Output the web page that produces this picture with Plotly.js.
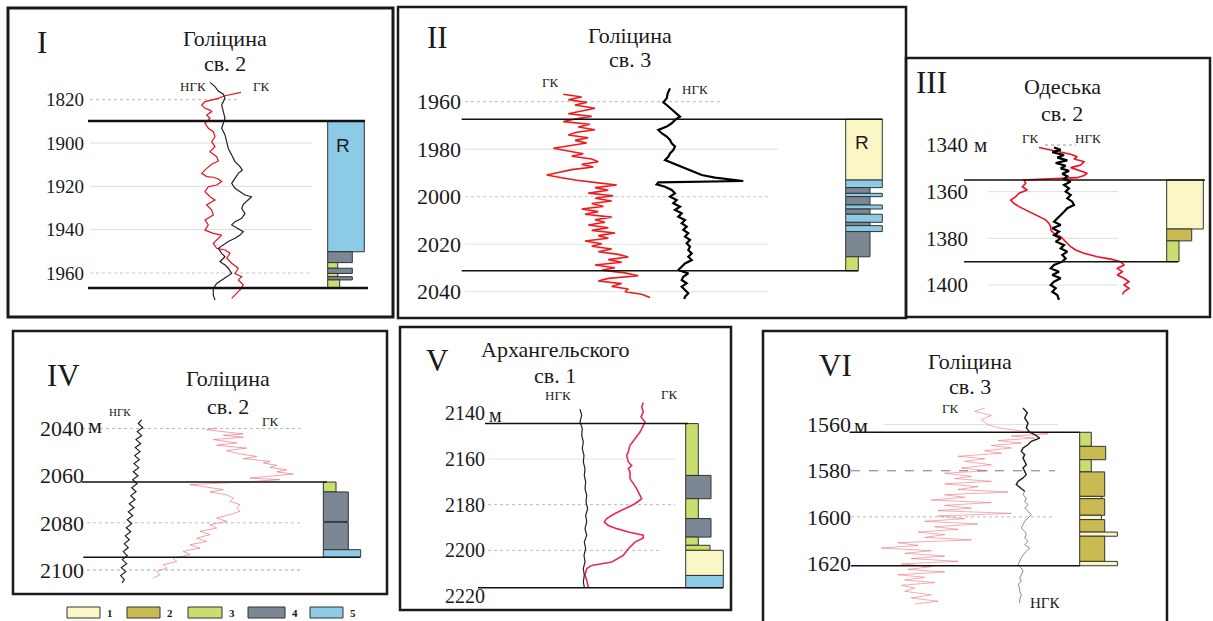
<!DOCTYPE html>
<html><head><meta charset="utf-8">
<script src="https://cdn.plot.ly/plotly-3.0.1.min.js"></script>
<style>html,body{margin:0;padding:0;background:#fff;}#chart{width:1213px;height:621px;}</style>
</head><body><div id="chart"></div>
<script>
// ================= DATA =================
const lithoCodes = [1, 2, 3, 4, 5];
const lithoColors = {1:'#fbf6c6', 2:'#c9bb52', 3:'#c8de6e', 4:'#7c8794', 5:'#8dcae6'};

// ---- Panel I : Голіцина св. 2 ----
const ticks1 = [1880, 1900, 1920, 1940, 1960];
const tickText1 = ['1820', '1900', '1920', '1940', '1960'];
const bounds1 = [1889.8, 1966.9];
const ngk1Depth = [1872.0,1874.0,1876.0,1877.5,1879.4,1882.5,1885.5,1888.6,1890.9,1893.2,1896.3,1899.4,1902.5,1905.5,1908.6,1910.9,1912.5,1914.0,1916.3,1918.6,1920.9,1922.5,1924.0,1924.8,1926.3,1928.3,1930.2,1932.5,1934.8,1936.3,1937.8,1939.4,1940.9,1942.5,1944.0,1945.5,1947.1,1948.6,1950.9,1952.5,1954.8,1956.3,1957.8,1960.2,1961.7,1963.2,1964.8,1967.1,1970.2,1972.5];
const ngk1 = [202,207,210.3,215.3,217,213.7,215.3,217,215.3,213.7,217,218.7,220.3,223.7,227,232,234.3,230.3,227,223.7,227,232,237,243.7,240.3,235.3,233.7,237,233.7,227,223.7,230.3,235.3,232,227,220.3,215.3,210.3,213.7,217,212,217,220.3,223.7,218.7,213.7,208.7,205.3,205.3,207];
const gk1Depth = [1876.6,1877.5,1878.2,1879.4,1880.2,1880.9,1882.5,1884.0,1884.8,1885.5,1887.1,1888.6,1890.9,1893.2,1894.8,1897.1,1899.4,1901.7,1904.0,1906.3,1908.3,1909.8,1911.7,1914.0,1915.5,1915.8,1916.6,1917.8,1919.4,1920.2,1922.5,1924.8,1926.3,1928.6,1930.9,1933.2,1935.5,1937.8,1940.2,1941.7,1942.5,1944.0,1946.3,1948.6,1949.4,1950.9,1953.2,1955.5,1957.8,1960.2,1961.7,1963.2,1965.5,1967.8,1970.2,1971.7];
const gk1 = [233,223.7,217,210.3,202,197,193.7,197,202,203.7,198.7,202,197,200.3,205.3,207,203.7,207,202,208.7,210.3,203.7,198.7,193.7,198.7,205.3,210.3,213.7,208.7,200.3,197,202,207,198.7,203.7,205.3,197,200.3,197,205.3,213.7,210.3,205.3,208.7,217,222,218.7,223.7,230.3,227,233.7,230.3,235.3,232,227,223.7];
const litho1Top = [1889.8,1950.2,1955.2,1957.8,1960.2,1961.7,1963.2];
const litho1Bot = [1950.2,1955.2,1957.8,1960.2,1961.7,1963.2,1966.9];
const litho1Type = [5,4,3,4,3,4,3];
const litho1Width = [36.6,24.6,10,24.6,10,24.6,12];

// ---- Panel II : Голіцина св. 3 ----
const ticks2 = [1960, 1980, 2000, 2020, 2040];
const tickText2 = ['1960', '1980', '2000', '2020', '2040'];
const bounds2 = [1967.4, 2031.2];
const ngk2Depth = [1954.4,1956.5,1958.6,1960.3,1961.4,1963.1,1964.9,1966.3,1967.7,1969.1,1970.5,1971.9,1973.3,1974.7,1976.1,1977.5,1978.9,1980.4,1981.8,1983.2,1984.6,1985.5,1986.9,1988.8,1990.9,1992.0,1992.8,1993.4,1994.0,1994.8,1995.8,1997.2,1998.6,2000.0,2001.4,2002.8,2004.2,2005.6,2007.0,2008.4,2009.8,2011.2,2012.6,2014.0,2015.4,2016.8,2018.2,2019.6,2021.1,2022.5,2023.9,2025.3,2026.7,2028.1,2029.5,2030.9,2032.3,2033.7,2035.1,2036.5,2037.9,2039.3,2040.7,2042.1,2043.1];
const ngk2 = [272,269.7,268.7,265.3,268.7,273.7,278.7,282,277,273.7,268.7,260.3,263.7,268.7,272,273.7,277,275.3,272,270.3,267,272,280.3,290.3,303.7,317,330.3,345.3,260.3,258.7,267,273.7,277,272,278.7,275.3,282,277,283.7,280.3,287,283.7,288.7,285.3,290.3,287,292,288.7,292,290.3,293.7,290.3,293.7,287,283.7,280.3,290.3,285.3,283.7,288.7,283.7,287,290.3,287,286.3];
const gk2Depth = [1956.9,1958.0,1959.2,1960.3,1961.4,1962.8,1963.9,1965.1,1966.2,1967.3,1968.4,1969.5,1970.7,1971.8,1972.9,1974.0,1975.2,1976.3,1977.4,1978.5,1979.6,1980.8,1981.9,1983.0,1984.1,1985.3,1986.4,1987.5,1988.6,1989.8,1990.9,1992.0,1993.1,1994.2,1995.1,1996.2,1997.3,1998.5,1999.6,2000.7,2001.8,2002.9,2004.1,2005.2,2006.3,2007.4,2008.6,2009.7,2010.8,2011.9,2013.1,2014.2,2015.3,2016.4,2017.5,2018.7,2019.8,2020.9,2022.0,2023.2,2024.3,2025.4,2026.5,2027.6,2028.8,2029.9,2031.0,2032.1,2033.3,2034.4,2035.5,2036.6,2037.8,2038.9,2040.0,2041.1,2042.5];
const gk2 = [165.3,183.7,170.3,188.7,177,197,183.7,170.3,193.7,177,165.3,192,180.3,197,178.7,170.3,190.3,177,188.7,173.7,155.3,170.3,185.3,173.7,193.7,200.3,183.7,195.3,173.7,160.3,148.7,163.7,178.7,200.3,218.7,197,210.3,190.3,215.3,197,213.7,193.7,205.3,183.7,200.3,187,213.7,197,207,190.3,210.3,193.7,217,200.3,210.3,187,203.7,193.7,213.7,200.3,220.3,230.3,210.3,223.7,197,217,203.7,227,240.3,210.3,200.3,223.7,213.7,230.3,227,243.7,252];
const litho2Top = [1967.4,1993.0,1996.2,1998.6,2000.0,2003.5,2005.2,2007.4,2010.8,2012.2,2014.7,2025.3];
const litho2Bot = [1993.0,1996.2,1998.6,2000.0,2003.5,2005.2,2007.4,2010.8,2012.2,2014.7,2025.3,2031.2];
const litho2Type = [1,5,4,5,4,5,4,5,4,5,4,3];
const litho2Width = [36.6,36.6,24.3,36.6,24.3,36.6,24.3,36.6,24.3,36.6,24.3,12.6];

// ---- Panel III : Одеська св. 2 ----
const ticks3 = [1340, 1360, 1380, 1400];
const tickText3 = ['1340', '1360', '1380', '1400'];
const bounds3 = [1355, 1390];
const ngk3Depth = [1341.1,1342.1,1343.1,1344.3,1345.4,1346.6,1347.7,1348.9,1350.0,1351.1,1352.3,1353.4,1354.6,1355.7,1357.1,1358.6,1360.0,1361.4,1362.9,1364.3,1365.7,1367.1,1368.6,1370.0,1371.4,1372.9,1374.3,1375.7,1377.1,1378.6,1380.0,1381.4,1382.9,1384.3,1385.7,1387.1,1388.6,1390.0,1391.4,1392.9,1394.3,1395.7,1397.1,1398.6,1400.0,1401.4,1402.9,1404.3,1406.4];
const ngk3 = [148,154.7,146.3,158,151.3,161.3,149.7,159.7,154.7,163,156.3,161.3,158,164.7,158,163,159.7,164.7,161.3,166.3,168,161.3,158,154.7,151.3,148,154.7,146.3,153,148,154.7,149.7,158,154.7,161.3,156.3,159.7,156.3,148,144.7,153,146.3,154.7,148,144.7,149.7,146.3,151.3,153];
const gk3Depth = [1341.1,1342.1,1343.1,1344.0,1345.0,1346.0,1347.1,1348.6,1349.7,1350.7,1352.1,1353.1,1354.0,1355.0,1356.4,1357.9,1359.3,1360.7,1362.1,1363.6,1365.0,1366.4,1367.9,1369.3,1370.7,1372.1,1373.6,1375.0,1376.4,1377.9,1379.3,1380.7,1382.1,1383.6,1385.0,1386.4,1387.9,1388.9,1390.0,1391.4,1392.9,1394.3,1395.7,1397.1,1398.6,1400.0,1401.4,1402.9,1404.0];
const gk3 = [133,144.7,154.7,164.7,171.3,168,178,174.7,164.7,171.3,181.3,178,171.3,118,119.7,116.3,121.3,113,109.7,104.7,108,113,119.7,126.3,133,139.7,143,144.7,144.7,148,154.7,158,161.3,164.7,169.7,178,191.3,204.7,214.7,218,211.3,216.3,211.3,218,223,218,223,218,216.3];
const litho3Top = [1355, 1376, 1381.1];
const litho3Bot = [1376, 1381.1, 1390];
const litho3Type = [1, 2, 3];
const litho3Width = [36.6, 25, 12.3];

// ---- Panel IV : Голіцина св. 2 ----
const ticks4 = [2040, 2060, 2080, 2100];
const tickText4 = ['2040', '2060', '2080', '2100'];
const bounds4 = [2062.7, 2094.6];
const ngk4Depth = [2036.2,2037.9,2039.6,2041.3,2043.0,2044.7,2046.4,2048.1,2049.8,2051.5,2053.2,2054.9,2056.6,2058.3,2060.0,2061.7,2063.4,2065.1,2066.8,2068.5,2070.2,2071.9,2073.6,2075.3,2077.0,2078.7,2080.4,2082.1,2083.8,2085.5,2087.2,2088.9,2090.5,2092.2,2093.9,2095.6,2097.3,2099.0,2100.7,2102.4,2104.1,2105.5];
const ngk4 = [128.7,125.3,129.7,124.3,128.7,123,127.7,122.3,127,121.7,126.3,121,125.7,120.3,125,119.7,124,118.7,123,117.7,122,116.3,121,115.3,119.7,114.3,118.7,113.3,117.7,112.3,116.3,111.3,115.3,110.3,114.3,109.3,113.7,108.3,112.7,107.7,111.3,109];
const gk4Depth = [2039.8,2040.5,2041.5,2042.3,2042.9,2043.7,2044.7,2046.1,2047.1,2048.3,2049.4,2050.8,2051.8,2052.8,2053.9,2054.6,2055.6,2056.5,2057.5,2058.4,2059.3,2060.3,2061.0,2061.7,2062.7,2063.8,2064.9,2065.9,2066.9,2068.1,2069.5,2070.9,2072.3,2073.7,2075.1,2076.5,2078.0,2079.4,2080.8,2082.2,2083.6,2085.0,2086.5,2087.9,2089.3,2090.7,2092.1,2093.5,2094.9,2096.4,2097.8,2099.2,2100.6,2102.0,2103.4];
const gk4 = [203.7,193.7,213.7,230.3,210.3,230.3,200.3,223.7,203.7,233.7,213.7,227,243.7,230.3,257,250.3,263.7,257,273.7,263.7,280.3,257,237,267,230.3,177,197,210.3,197,213.7,220.3,217,227,223.7,227,217,203.7,213.7,197,203.7,187,197,183.7,193.7,177,187,170.3,177,160.3,163.7,150.3,153.7,143.7,147,140.3];
const litho4Top = [2062.7, 2066.9, 2079.8, 2091.4];
const litho4Bot = [2066.9, 2079.4, 2091.4, 2094.6];
const litho4Type = [3, 4, 4, 5];
const litho4Width = [12.7, 25, 25, 37.4];

// ---- Panel V : Архангельского св. 1 ----
const ticks5 = [2140, 2160, 2180, 2200, 2220];
const tickText5 = ['2140', '2160', '2180', '2200', '2220'];
const bounds5 = [2144.5, 2216.4];
const ngk5Depth = [2138.2,2140.9,2143.8,2146.7,2149.6,2152.6,2155.5,2158.4,2161.3,2164.2,2167.2,2170.1,2173.0,2175.9,2178.8,2181.8,2184.7,2187.6,2190.5,2193.4,2196.4,2199.3,2202.2,2205.1,2208.0,2210.9,2213.9,2216.1];
const ngk5 = [180,181.7,180,182.3,181.7,183.3,182.3,184,183.3,185,184.3,185.7,185,186.7,186,187.7,185.7,186.7,185,186.7,184.3,185.7,184,185,183.3,184.3,183.3,184.3];
const gk5Depth = [2135.3,2137.2,2139.4,2141.6,2143.8,2145.3,2148.2,2151.1,2154.0,2156.9,2158.4,2161.3,2162.8,2164.2,2165.7,2168.6,2170.8,2173.0,2175.9,2177.4,2179.6,2181.8,2183.9,2186.1,2187.6,2189.1,2190.5,2192.0,2193.4,2194.6,2196.4,2199.3,2202.2,2205.1,2206.6,2208.0,2210.9,2213.1,2216.1];
const gk5 = [243.3,241.7,243.3,241,245,243.3,240,235,230,228.3,226.7,228.3,231.7,228.3,230,230,233.3,236.7,240,241.7,235,225,215,206.7,204.3,208.3,216.7,228.3,243.3,243.3,235,228.3,223.3,211.7,191.7,186.7,185,186.7,188.3];
const litho5Top = [2144.5,2167.2,2177.4,2186.1,2194.2,2197.8,2200.0,2211.0];
const litho5Bot = [2167.2,2177.4,2186.1,2194.2,2197.8,2200.0,2211.0,2216.4];
const litho5Type = [3,4,3,4,3,3,1,5];
const litho5Width = [12.6,25.3,12.6,25.3,12.6,24.3,37.6,37.6];

// ---- Panel VI : Голіцина св. 3 ----
const ticks6 = [1560, 1580, 1600, 1620];
const tickText6 = ['1560', '1580', '1600', '1620'];
const bounds6 = [1563.3, 1621.2];
const ngk6Depth = [1552.8,1554.9,1557.1,1559.3,1561.4,1563.3,1564.3,1565.8,1567.2,1568.7,1570.1,1571.6,1573.0,1574.5,1575.9,1577.4,1578.8,1580.2,1581.7,1583.1,1584.6,1586.0,1587.5,1588.9,1590.4,1591.8,1593.3,1594.7,1596.2,1597.6,1599.0,1600.5,1601.9,1603.4,1604.8,1606.3,1607.7,1609.2,1610.6,1612.1,1613.5,1615.0,1616.4,1617.8,1619.3,1620.7,1622.2,1623.6,1625.1,1626.5,1628.0,1629.4,1630.9,1632.3,1633.8,1635.9,1637.4];
const ngk6 = [260,264.3,261.7,265,263.3,266.7,271.7,276.7,268.3,265,260,258.3,261.7,260,261.7,263.3,260,261.7,263.3,260,255,253.3,258.3,261.7,260,263.3,261.7,265,261.7,265,268.3,265,261.7,260,258.3,261.7,263.3,261.7,265,261.7,266.7,263.3,260,258.3,256.7,255,258.3,260,258.3,256.7,258.3,255,256.7,256.7,258.3,256.7,256.7];
const gk6Depth = [1552.8,1554.2,1556.0,1557.8,1560.0,1561.4,1562.9,1564.0,1564.9,1565.8,1566.9,1568.0,1569.0,1570.1,1571.3,1572.4,1573.7,1574.8,1575.9,1577.4,1578.8,1580.0,1581.1,1582.4,1583.4,1584.6,1585.7,1586.9,1588.1,1589.2,1590.4,1591.5,1592.7,1593.8,1595.0,1596.2,1597.3,1598.5,1599.6,1600.8,1601.9,1603.1,1604.3,1605.4,1606.6,1607.7,1608.9,1610.0,1611.2,1612.4,1613.5,1614.7,1615.8,1617.0,1618.1,1619.3,1620.4,1621.6,1622.8,1623.9,1625.1,1626.2,1627.4,1628.5,1629.7,1630.9,1632.3,1633.8,1635.2,1636.6,1637.8];
const gk6 = [221.7,211.7,228.3,218.3,225,235,261.7,285,248.3,271.7,235,258.3,228.3,248.3,221.7,238.3,195,221.7,201.7,228.3,198.3,225,181.7,208.3,191.7,228.3,181.7,215,195,245,181.7,201.7,168.3,228.3,181.7,208.3,175,248.3,175,201.7,161.7,215,171.7,195,155,181.7,161.7,208.3,135,155,118.3,168.3,141.7,181.7,148.3,195,138.3,168.3,145,181.7,135,161.7,141.7,171.7,138.3,151.7,141.7,168.3,148.3,175,151.7];
const litho6Top = [1563.3,1569.4,1575.2,1580.5,1591.1,1592.1,1599.3,1601.2,1606.6,1608.4,1619.3];
const litho6Bot = [1569.4,1575.2,1580.5,1591.1,1592.1,1599.3,1601.2,1606.6,1608.4,1619.3,1621.2];
const litho6Type = [3,2,3,2,1,2,1,2,1,2,1];
const litho6Width = [11.6,26,11.6,25,21.7,25,21.7,25,37.7,25,37.7];

const wellNames = [['Голіцина','св. 2'],['Голіцина','св. 3'],['Одеська','св. 2'],['Голіцина','св. 2'],['Архангельского','св. 1'],['Голіцина','св. 3']];
const romans = ['I','II','III','IV','V','VI'];

// ================= LAYOUT / GEOMETRY =================
const W = 1213, H = 621;
const px = x => x / W, py = y => 1 - y / H;
const SERIF = 'Liberation Serif, Times New Roman, serif';

const series = [
  {ngkD:ngk1Depth, ngk:ngk1, gkD:gk1Depth, gk:gk1, lt:litho1Top, lb:litho1Bot, ty:litho1Type, lw:litho1Width, tv:ticks1, tt:tickText1, bd:bounds1},
  {ngkD:ngk2Depth, ngk:ngk2, gkD:gk2Depth, gk:gk2, lt:litho2Top, lb:litho2Bot, ty:litho2Type, lw:litho2Width, tv:ticks2, tt:tickText2, bd:bounds2},
  {ngkD:ngk3Depth, ngk:ngk3, gkD:gk3Depth, gk:gk3, lt:litho3Top, lb:litho3Bot, ty:litho3Type, lw:litho3Width, tv:ticks3, tt:tickText3, bd:bounds3},
  {ngkD:ngk4Depth, ngk:ngk4, gkD:gk4Depth, gk:gk4, lt:litho4Top, lb:litho4Bot, ty:litho4Type, lw:litho4Width, tv:ticks4, tt:tickText4, bd:bounds4},
  {ngkD:ngk5Depth, ngk:ngk5, gkD:gk5Depth, gk:gk5, lt:litho5Top, lb:litho5Bot, ty:litho5Type, lw:litho5Width, tv:ticks5, tt:tickText5, bd:bounds5},
  {ngkD:ngk6Depth, ngk:ngk6, gkD:gk6Depth, gk:gk6, lt:litho6Top, lb:litho6Bot, ty:litho6Type, lw:litho6Width, tv:ticks6, tt:tickText6, bd:bounds6}
];

const geom = [
  {L:8,R:393,T:8,B:317,fw:3, d0:1900,y0:143,k:2.1667, axisX:84, tf:19, colLeft:319.7,
   bx:[[80,357],[80,360]], bw:2.5,
   grid:[[82,230,'dot','#bbb'],[82,304,'solid','#ddd'],[82,304,'solid','#ddd'],[82,304,'solid','#ddd'],[82,304,'dot','#c8c8c8']],
   gkLine:{color:'#e8101c',width:1.2}, ngkLine:{color:'#222',width:1.2}, ngkDark:null,
   roman:[42,43], t1:[225,38], t2:[225,63], labs:[['НГК',193,87,13],['ГК',261,87,13]], unit:null, rLab:[343,145]},
  {L:398,R:906,T:7,B:318,fw:2.5, d0:1960,y0:101.67,k:2.375, axisX:461, tf:22, colLeft:447.7,
   bx:[[63.7,484.3],[63.7,460.3]], bw:1.5,
   grid:[[67,324,'dot','#bbb'],[67,380,'solid','#ddd'],[67,370,'dot','#c8c8c8'],[67,370,'solid','#e2e2e2'],[67,370,'solid','#e2e2e2']],
   gkLine:{color:'#f01a1a',width:1.6}, ngkLine:{color:'#000',width:2.2}, ngkDark:null,
   roman:[437,37], t1:[630,35], t2:[630,60], labs:[['ГК',550,82,13],['НГК',695,90,13]], unit:null, rLab:[862,142]},
  {L:906,R:1210,T:58,B:317,fw:2.5, d0:1340,y0:145,k:2.3333, axisX:968, tf:21, colLeft:260.7,
   bx:[[58,299],[58,272]], bw:1.5,
   grid:[[139,170,'dot','#999'],[82,212,'solid','#ddd'],[82,212,'solid','#ddd'],[82,212,'solid','#ddd']],
   gkLine:{color:'#ee1122',width:1.6}, ngkLine:{color:'#000',width:2.2}, ngkDark:null,
   roman:[932,82], t1:[1062,87], t2:[1062,113], labs:[['ГК',1030,138,13],['НГК',1088,138,13]], unit:[972,145], rLab:null},
  {L:13,R:387,T:331,B:594,fw:2.5, d0:2070,y0:499.25,k:2.358, axisX:84, tf:22, colLeft:310.3,
   bx:[[68.7,313.7],[70.3,347]], bw:1.5,
   grid:[[69,290,'dot','#bbb'],null,[74,290,'dot','#bbb'],[74,290,'dot','#aaa']],
   gkLine:{color:'rgba(235,110,120,0.65)',width:1}, ngkLine:{color:'#222',width:1.2}, ngkDark:null,
   roman:[63,375], t1:[228,378], t2:[228,406], labs:[['НГК',120,412,11],['ГК',270,421,13]], unit:[86,425], rLab:null},
  {L:400,R:731,T:327,B:610,fw:2.5, d0:2180,y0:504.66,k:2.2835, axisX:485, tf:20, colLeft:285.7,
   bx:[[85,288],[78,323]], bw:1.5,
   grid:[null,[88,275,'solid','#e6e6e6'],[88,275,'dot','#bbb'],[88,260,'dot','#bbb'],null],
   gkLine:{color:'#ea2a52',width:1.6}, ngkLine:{color:'#222',width:1.2}, ngkDark:null,
   roman:[437,360], t1:[555,350], t2:[555,375], labs:[['НГК',558,396,13],['ГК',670,394,13]], unit:[487,415], rLab:null},
  {L:763,R:1167,T:331,B:626,fw:2.5, d0:1560,y0:424.67,k:2.305, axisX:851, tf:22, colLeft:316.7,
   bx:[[86.7,316.7],[88,317]], bw:1.5,
   grid:[[121,295,'solid','#ddd'],[88,292,'dash','#777'],[88,292,'dot','#bbb'],null],
   gkLine:{color:'rgba(235,90,100,0.5)',width:1}, ngkLine:{color:'#888',width:1},
   ngkDark:{maxDepth:1589, line:{color:'#222',width:1.4}},
   roman:[835,366], t1:[970,361], t2:[970,386], labs:[['ГК',950,408,13],['НГК',1045,603,15]], unit:[852,425], rLab:null}
];

const traces = [], shapes = [], annotations = [];
const layout = {
  width: W, height: H, margin: {l:0, r:0, t:0, b:0}, autosize: false,
  paper_bgcolor: '#fff', plot_bgcolor: 'rgba(0,0,0,0)', showlegend: false,
  barmode: 'overlay', bargap: 0, font: {family: SERIF, color: '#1a1a1a'}
};

geom.forEach((g, i) => {
  const s = series[i];
  const sfx = i ? String(i + 1) : '';
  const xa = 'x' + sfx, ya = 'y' + sfx;
  const bottomPx = Math.min(g.B, H);
  const dTop = g.d0 + (g.T - g.y0) / g.k;
  const dBot = g.d0 + (bottomPx - g.y0) / g.k;
  layout['xaxis' + sfx] = {domain: [px(g.L), px(g.R)], range: [0, g.R - g.L], autorange: false,
    visible: false, fixedrange: true, anchor: ya};
  layout['yaxis' + sfx] = {domain: [py(bottomPx), py(g.T)], range: [dBot, dTop], autorange: false,
    anchor: 'free', position: px(g.axisX), tickmode: 'array', tickvals: s.tv, ticktext: s.tt,
    ticks: '', showgrid: false, zeroline: false, showline: false, fixedrange: true,
    tickfont: {family: SERIF, size: g.tf, color: '#1a1a1a'}};

  s.tv.forEach((d, j) => {
    const gr = g.grid[j];
    if (!gr) return;
    shapes.push({type:'line', xref:xa, yref:ya, x0:gr[0], x1:gr[1], y0:d, y1:d,
      line:{color:gr[3], width:1, dash:gr[2]}, layer:'below'});
  });

  traces.push({type:'scatter', mode:'lines', x:s.gk, y:s.gkD, xaxis:xa, yaxis:ya,
    line:g.gkLine, hoverinfo:'skip', name:'ГК'});
  traces.push({type:'scatter', mode:'lines', x:s.ngk, y:s.ngkD, xaxis:xa, yaxis:ya,
    line:g.ngkLine, hoverinfo:'skip', name:'НГК'});
  if (g.ngkDark) {
    const idx = s.ngkD.map((d, j) => j).filter(j => s.ngkD[j] <= g.ngkDark.maxDepth);
    traces.push({type:'scatter', mode:'lines', x:idx.map(j => s.ngk[j]), y:idx.map(j => s.ngkD[j]),
      xaxis:xa, yaxis:ya, line:g.ngkDark.line, hoverinfo:'skip', name:'НГК'});
  }

  traces.push({type:'bar', x:s.lw.map(w => g.colLeft + w / 2), y:s.lb.map((b, j) => b - s.lt[j]),
    base:s.lt, width:s.lw, xaxis:xa, yaxis:ya, hoverinfo:'skip',
    marker:{color:s.ty.map(t => lithoColors[t]), line:{color:'#333', width:1}}});

  s.bd.forEach((d, j) => {
    shapes.push({type:'line', xref:xa, yref:ya, x0:g.bx[j][0], x1:g.bx[j][1], y0:d, y1:d,
      line:{color:'#111', width:g.bw}, layer:'above'});
  });

  shapes.push({type:'rect', xref:'paper', yref:'paper', x0:px(g.L), x1:px(g.R), y0:py(g.B), y1:py(g.T),
    line:{color:'#1a1a1a', width:g.fw}, fillcolor:'rgba(0,0,0,0)', layer:'above'});

  annotations.push({text:romans[i], xref:'paper', yref:'paper', x:px(g.roman[0]), y:py(g.roman[1]),
    showarrow:false, xanchor:'center', yanchor:'middle', font:{family:SERIF, size:31, color:'#1a1a1a'}});
  annotations.push({text:wellNames[i][0], xref:'paper', yref:'paper', x:px(g.t1[0]), y:py(g.t1[1]),
    showarrow:false, xanchor:'center', yanchor:'middle', font:{family:SERIF, size:22, color:'#1a1a1a'}});
  annotations.push({text:wellNames[i][1], xref:'paper', yref:'paper', x:px(g.t2[0]), y:py(g.t2[1]),
    showarrow:false, xanchor:'center', yanchor:'middle', font:{family:SERIF, size:22, color:'#1a1a1a'}});
  g.labs.forEach(l => annotations.push({text:l[0], xref:'paper', yref:'paper', x:px(l[1]), y:py(l[2]),
    showarrow:false, xanchor:'center', yanchor:'middle', font:{family:SERIF, size:l[3], color:'#1a1a1a'}}));
  if (g.unit) annotations.push({text:'м', xref:'paper', yref:'paper', x:px(g.unit[0]), y:py(g.unit[1]),
    showarrow:false, xanchor:'left', yanchor:'middle', font:{family:SERIF, size:g.tf, color:'#1a1a1a'}});
  if (g.rLab) annotations.push({text:'R', xref:'paper', yref:'paper', x:px(g.rLab[0]), y:py(g.rLab[1]),
    showarrow:false, xanchor:'center', yanchor:'middle', font:{family:'Liberation Sans, Arial, sans-serif', size:19, color:'#1a1a1a'}});
});

const legBoxX = [[67,100],[127,160],[188,222],[248,285],[310,343]];
lithoCodes.forEach((c, j) => {
  shapes.push({type:'rect', xref:'paper', yref:'paper', x0:px(legBoxX[j][0]), x1:px(legBoxX[j][1]),
    y0:py(618), y1:py(607), fillcolor:lithoColors[c], line:{color:'#333', width:1}});
  annotations.push({text:'<b>' + c + '</b>', xref:'paper', yref:'paper', x:px(legBoxX[j][1] + 5), y:py(613),
    showarrow:false, xanchor:'left', yanchor:'middle', font:{family:SERIF, size:11, color:'#1a1a1a'}});
});

layout.shapes = shapes;
layout.annotations = annotations;
Plotly.newPlot('chart', traces, layout, {displayModeBar:false, staticPlot:true});
</script>
</body></html>
